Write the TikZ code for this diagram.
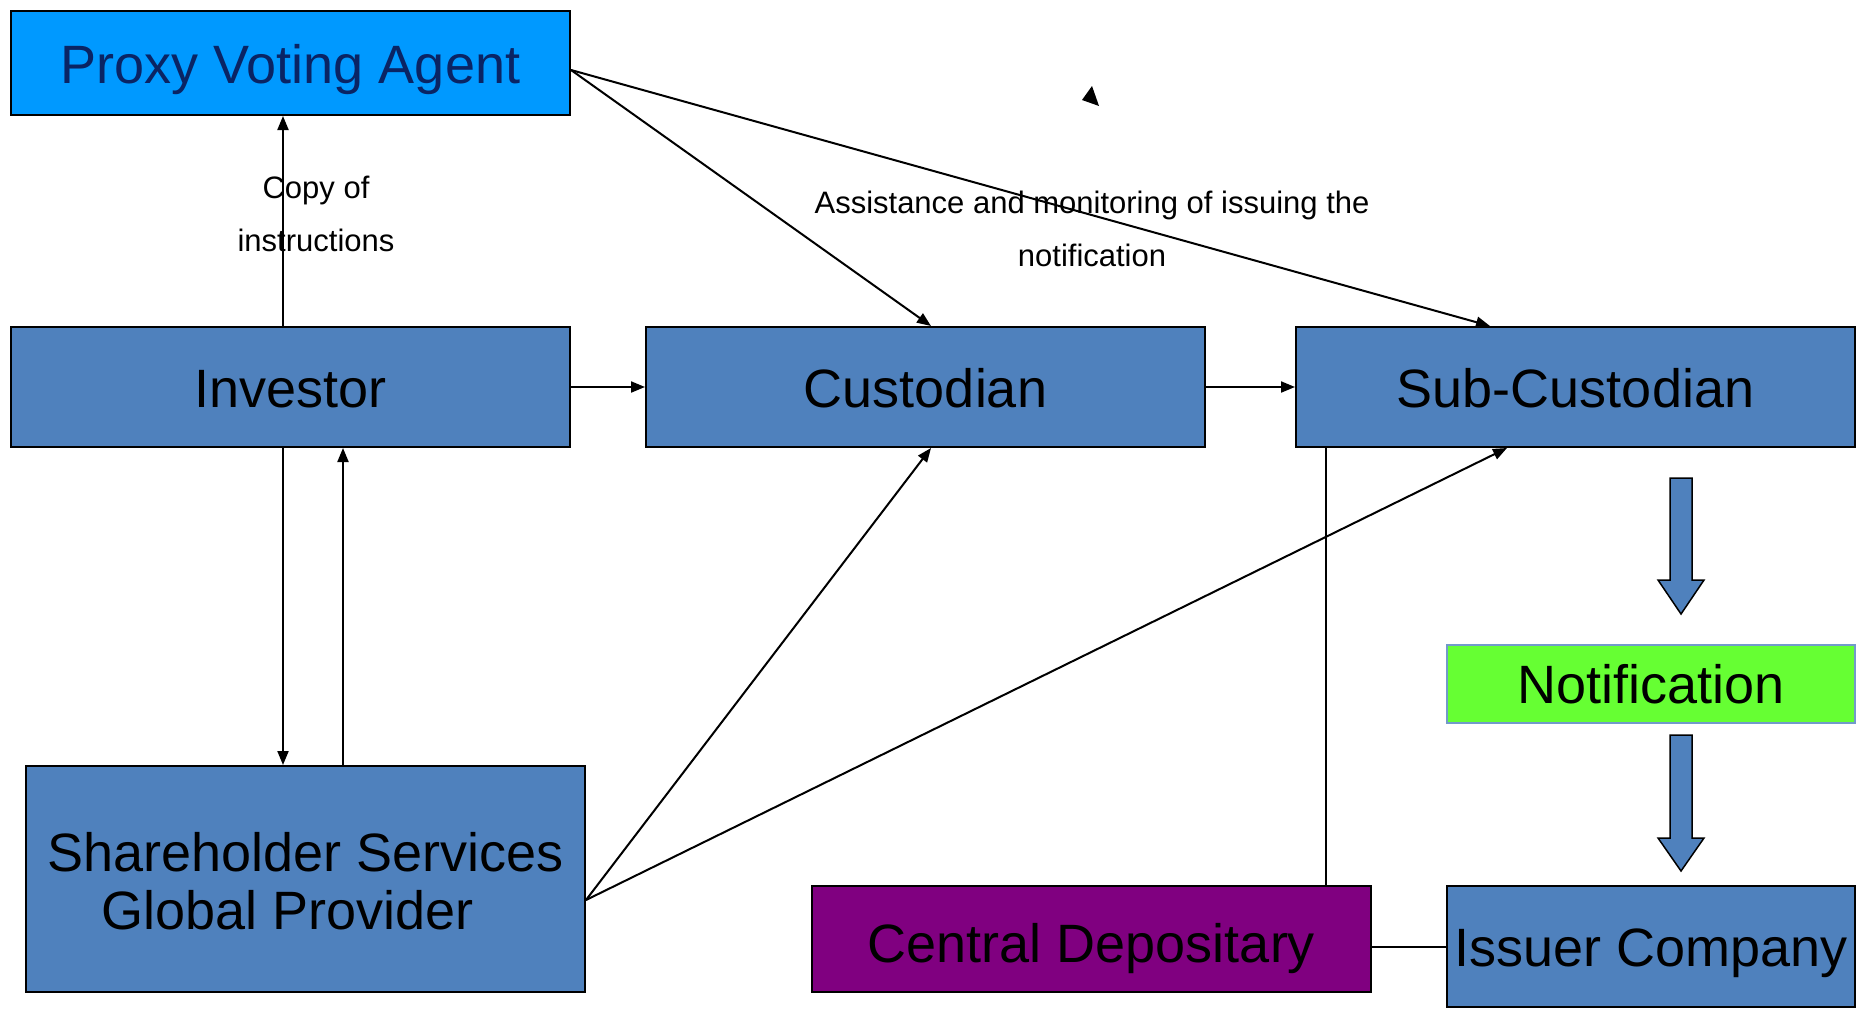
\documentclass[tikz,border=0pt]{standalone}
\usepackage{fontspec}
\setmainfont{Liberation Sans}
\usetikzlibrary{arrows.meta}
\definecolor{agentblue}{HTML}{0099FF}
\definecolor{agenttext}{RGB}{10,36,100}
\definecolor{boxblue}{HTML}{4F81BD}
\definecolor{notegreen}{HTML}{66FF33}
\definecolor{depopurple}{HTML}{800080}
\tikzset{
  box/.style={draw=black, line width=2pt, rectangle, inner sep=0pt},
  boxtext/.style={font=\fontsize{54}{58}\selectfont, align=center, inner sep=0pt},
  link/.style={line width=2pt, draw=black},
  tip/.style={-{Triangle[length=14pt,width=11pt]}},
  note/.style={font=\fontsize{31}{53}\selectfont, align=center, inner sep=0pt},
  blockarrow/.style={fill=boxblue, draw=black, line width=1.5pt, line join=miter}
}
\begin{document}
\begin{tikzpicture}[x=1pt,y=-1pt]
\useasboundingbox (0,0) rectangle (1865,1009);

% boxes, each with its caption set as a centred label
\node[box, fill=agentblue, minimum width=559pt, minimum height=104pt,
  label={[boxtext, text=agenttext, yshift=-7pt]center:Proxy Voting Agent}] (pva) at (290.5,63) {};
\node[box, fill=boxblue, minimum width=559pt, minimum height=120pt,
  label={[boxtext, yshift=-2.5pt]center:Investor}] (inv) at (290.5,387) {};
\node[box, fill=boxblue, minimum width=559pt, minimum height=120pt,
  label={[boxtext, yshift=-1.5pt]center:Custodian}] (cus) at (925.5,387) {};
\node[box, fill=boxblue, minimum width=559pt, minimum height=120pt,
  label={[boxtext, yshift=-1.5pt]center:Sub-Custodian}] (sub) at (1575.5,387) {};
\node[box, fill=boxblue, minimum width=559pt, minimum height=226pt,
  label={[boxtext, yshift=-2pt]center:Shareholder Services\\Global Provider\hspace*{36pt}}] (shs) at (305.5,879) {};
\node[box, fill=depopurple, minimum width=559pt, minimum height=106pt,
  label={[boxtext, yshift=-9.5pt]center:Central Depositary}] (cd) at (1091.5,939) {};
\node[box, fill=notegreen, draw=boxblue!80!white, line width=1.5pt, minimum width=408pt, minimum height=78pt,
  label={[boxtext]center:Notification}] (notif) at (1651,684) {};
\node[box, fill=boxblue, minimum width=408pt, minimum height=121pt,
  label={[boxtext, yshift=-7pt]center:Issuer Company}] (iss) at (1651,946.5) {};

% labels
\node[note] (copylbl) at (316,214) {Copy of\\instructions};
\node[note] (assistlbl) at (1092,229) {Assistance and monitoring of issuing the\\notification};

% connectors
\draw[link, tip] ([xshift=-7.5pt]inv.north) -- ([xshift=-7.5pt]pva.south);
\draw[link, tip] ([yshift=-7pt]pva.east) -- ([xshift=5.5pt]cus.north);
\draw[link, tip] ([yshift=-7pt]pva.east) -- ([xshift=-85.5pt]sub.north);
\draw[link, tip] (inv.east) -- (cus.west);
\draw[link, tip] (cus.east) -- (sub.west);
\draw[link, tip] ([xshift=-7.5pt]inv.south) -- ([xshift=-22.5pt]shs.north);
\draw[link, tip] ([xshift=37.5pt]shs.north) -- ([xshift=52.5pt]inv.south);
\draw[link, tip] ([yshift=-21pt]shs.east) -- ([xshift=5.5pt]cus.south);
\draw[link, tip] ([yshift=-21pt]shs.east) -- ([xshift=-68.5pt]sub.south);
\draw[link] ([xshift=-249.5pt]sub.south) -- ([xshift=234.5pt]cd.north);
\draw[link] ([yshift=-8pt]cd.east) -- ([yshift=-0.5pt]iss.west);

% loose arrowhead
\fill (1092,86) -- (1082,100) -- (1099,106) -- cycle;

% block arrows
\draw[blockarrow] (1670,478) -- (1692,478) -- (1692,580) -- (1704,580) -- (1681,614)
  -- (1658,580) -- (1670,580) -- cycle;
\draw[blockarrow] (1670,735) -- (1692,735) -- (1692,838) -- (1704,838) -- (1681,871)
  -- (1658,838) -- (1670,838) -- cycle;
\end{tikzpicture}
\end{document}
